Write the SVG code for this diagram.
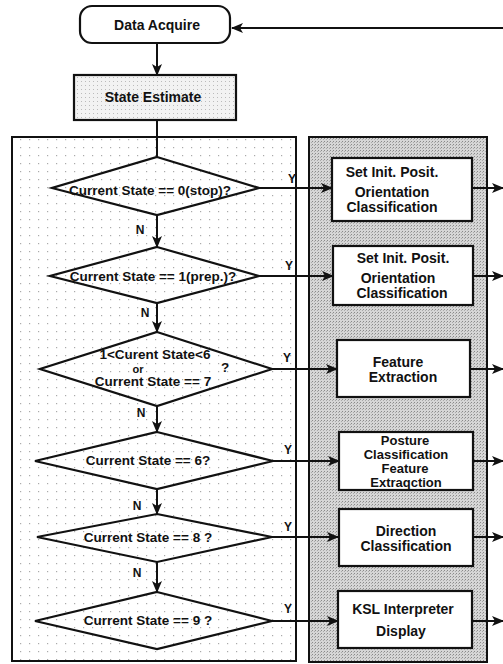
<svg xmlns="http://www.w3.org/2000/svg" width="503" height="664" viewBox="0 0 503 664">
<style>
text{font-family:"Liberation Sans",Arial,sans-serif;font-weight:bold;fill:#111;text-anchor:middle}
.d{font-size:13.5px}
.b{font-size:14px}
.s{font-size:13px}
.l{font-size:12px}
.o{font-size:11px}
.ln{stroke:#111;stroke-width:2;fill:none}
.box{stroke:#111;stroke-width:2.2;fill:#fff}
.dia{stroke:#111;stroke-width:2.2;fill:none}
</style>
<defs>
<pattern id="dots" width="9" height="8" patternUnits="userSpaceOnUse">
<rect width="9" height="8" fill="#fff"/>
<rect x="2" y="3" width="1.2" height="1.2" fill="#aaa"/>
</pattern>
<pattern id="gray" width="3" height="3" patternUnits="userSpaceOnUse">
<rect width="3" height="3" fill="#d6d6d6"/>
<rect x="0" y="0" width="1" height="1" fill="#8a8a8a"/>
<rect x="2" y="1" width="1" height="1" fill="#aaa"/>
</pattern>
<pattern id="light" width="4" height="4" patternUnits="userSpaceOnUse">
<rect width="4" height="4" fill="#f2f2f2"/>
<rect x="1" y="1" width="1" height="1" fill="#bbb"/>
</pattern>
<marker id="ar" markerWidth="12" markerHeight="10" refX="11" refY="5" orient="auto" markerUnits="userSpaceOnUse">
<path d="M0,0 L12,5 L0,10 L3,5 z" fill="#111"/>
</marker>
</defs>

<g id="left-panel"><rect x="12" y="137" width="284" height="524" fill="url(#dots)" stroke="#111" stroke-width="2"/></g>
<g id="right-panel"><rect x="309" y="137" width="178" height="525" fill="url(#gray)" stroke="#111" stroke-width="2"/></g>

<g id="connectors">
<path class="ln" d="M503,28 L232,28" marker-end="url(#ar)"/>
<path class="ln" d="M157,43 L157,75" marker-end="url(#ar)"/>
<path class="ln" d="M157,120 L157,157"/>
<path class="ln" d="M157,215 L157,247" marker-end="url(#ar)"/>
<path class="ln" d="M157,303 L157,332" marker-end="url(#ar)"/>
<path class="ln" d="M157,406 L157,432" marker-end="url(#ar)"/>
<path class="ln" d="M157,489 L157,514" marker-end="url(#ar)"/>
<path class="ln" d="M157,562 L157,592" marker-end="url(#ar)"/>
<path class="ln" d="M259,188 L332,188" marker-end="url(#ar)"/>
<path class="ln" d="M259,276 L333,276" marker-end="url(#ar)"/>
<path class="ln" d="M272,369 L337,369" marker-end="url(#ar)"/>
<path class="ln" d="M273,461 L339,461" marker-end="url(#ar)"/>
<path class="ln" d="M272,537 L338,537" marker-end="url(#ar)"/>
<path class="ln" d="M272,621 L338,621" marker-end="url(#ar)"/>
<path class="ln" d="M472,188 L503,188" marker-end="url(#ar)"/>
<path class="ln" d="M473,276 L503,276" marker-end="url(#ar)"/>
<path class="ln" d="M470,369 L503,369" marker-end="url(#ar)"/>
<path class="ln" d="M473,461 L503,461" marker-end="url(#ar)"/>
<path class="ln" d="M473,537 L503,537" marker-end="url(#ar)"/>
<path class="ln" d="M472,621 L503,621" marker-end="url(#ar)"/>
<text class="l" x="140" y="234">N</text>
<text class="l" x="145" y="317">N</text>
<text class="l" x="141" y="417">N</text>
<text class="l" x="137" y="510">N</text>
<text class="l" x="137" y="577">N</text>
<text class="l" x="292" y="183">Y</text>
<text class="l" x="289" y="270">Y</text>
<text class="l" x="287" y="362">Y</text>
<text class="l" x="288" y="454">Y</text>
<text class="l" x="288" y="531">Y</text>
<text class="l" x="288" y="613">Y</text>
</g>

<g id="data-acquire"><rect class="box" x="80" y="6" width="150" height="37" rx="12"/><text class="b" x="157" y="30">Data Acquire</text></g>
<g id="state-estimate"><rect class="box" x="74" y="75" width="162" height="45" style="fill:url(#light)"/><text class="b" x="153" y="102">State Estimate</text></g>

<g id="dec0"><polygon class="dia" points="157,157 259,188 157,215 52,188"/><text class="d" x="150" y="195">Current State == 0(stop)?</text></g>
<g id="dec1"><polygon class="dia" points="157,247 259,276 157,303 50,276"/><text class="d" x="153" y="281">Current State == 1(prep.)?</text></g>
<g id="dec2"><polygon class="dia" points="157,332 272,369 157,406 40,369"/><text class="d" x="155" y="359">1&lt;Curent State&lt;6</text><text class="o" x="138" y="373">or</text><text class="d" x="153" y="386">Current State == 7</text><text class="d" x="225" y="372">?</text></g>
<g id="dec3"><polygon class="dia" points="157,432 273,461 157,489 35,461"/><text class="d" x="148" y="465">Current State == 6?</text></g>
<g id="dec4"><polygon class="dia" points="157,514 272,537 157,562 37,537"/><text class="d" x="148" y="542">Current State == 8 ?</text></g>
<g id="dec5"><polygon class="dia" points="157,592 272,621 157,649 35,621"/><text class="d" x="148" y="625">Current State == 9 ?</text></g>

<g id="proc0"><rect class="box" x="332" y="158" width="140" height="63"/><text class="b" x="392" y="177">Set Init. Posit.</text><text class="b" x="392" y="197">Orientation</text><text class="b" x="392" y="212">Classification</text></g>
<g id="proc1"><rect class="box" x="333" y="246" width="140" height="59"/><text class="b" x="403" y="263">Set Init. Posit.</text><text class="b" x="398" y="283">Orientation</text><text class="b" x="402" y="298">Classification</text></g>
<g id="proc2"><rect class="box" x="337" y="340" width="133" height="57"/><text class="b" x="398" y="367">Feature</text><text class="b" x="403" y="382">Extraction</text></g>
<g id="proc3"><rect class="box" x="339" y="432" width="134" height="58"/><text class="s" x="405" y="445">Posture</text><text class="s" x="406" y="459">Classification</text><text class="s" x="405" y="473">Feature</text><text class="s" x="406" y="487">Extraqction</text></g>
<g id="proc4"><rect class="box" x="339" y="509" width="134" height="57"/><text class="b" x="406" y="536">Direction</text><text class="b" x="406" y="551">Classification</text></g>
<g id="proc5"><rect class="box" x="338" y="591" width="134" height="57"/><text class="b" x="403" y="614">KSL Interpreter</text><text class="b" x="401" y="636">Display</text></g>
</svg>
